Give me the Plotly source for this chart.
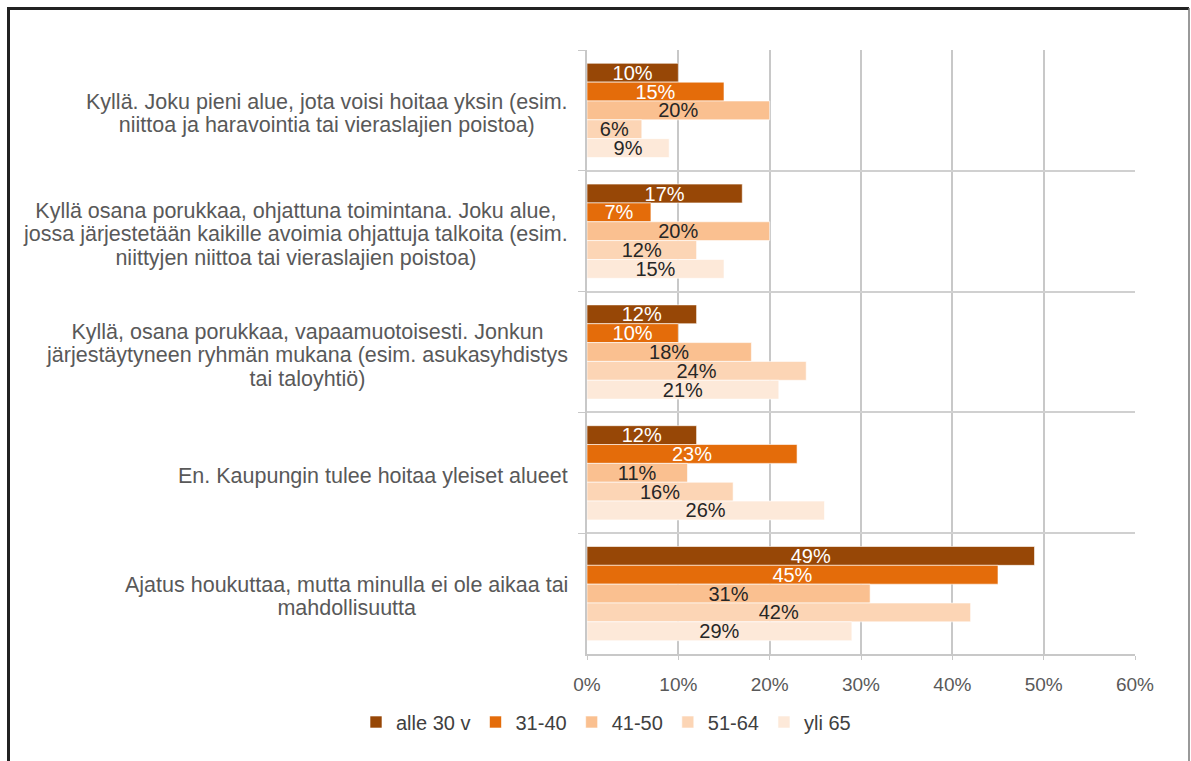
import plotly.graph_objects as go

categories = [
    "Kyllä. Joku pieni alue, jota voisi hoitaa yksin (esim.<br>niittoa ja haravointia tai vieraslajien poistoa)",
    "Kyllä osana porukkaa, ohjattuna toimintana. Joku alue,<br>jossa järjestetään kaikille avoimia ohjattuja talkoita (esim.<br>niittyjen niittoa tai vieraslajien poistoa)",
    "Kyllä, osana porukkaa, vapaamuotoisesti. Jonkun<br>järjestäytyneen ryhmän mukana (esim. asukasyhdistys<br>tai taloyhtiö)",
    "En. Kaupungin tulee hoitaa yleiset alueet",
    "Ajatus houkuttaa, mutta minulla ei ole aikaa tai<br>mahdollisuutta",
]
series_names = ["alle 30 v", "31-40", "41-50", "51-64", "yli 65"]
alle30 = [0.10, 0.17, 0.12, 0.12, 0.49]
v31_40 = [0.15, 0.07, 0.10, 0.23, 0.45]
v41_50 = [0.20, 0.20, 0.18, 0.11, 0.31]
v51_64 = [0.06, 0.12, 0.24, 0.16, 0.42]
yli65 = [0.09, 0.15, 0.21, 0.26, 0.29]
series_values = [alle30, v31_40, v41_50, v51_64, yli65]
x_ticks = [0, 0.1, 0.2, 0.3, 0.4, 0.5, 0.6]
x_ticklabels = ["0%", "10%", "20%", "30%", "40%", "50%", "60%"]

colors = ["#974706", "#E46C0A", "#FAC090", "#FCD5B5", "#FDE9D9"]
text_colors = ["white", "white", "#262626", "#262626", "#262626"]
FONT = "Liberation Sans, Arial"

W, H = 1191, 761
L, R, T, B = 587, 56, 50, 107
pw, ph = W - L - R, H - T - B

def px(x):
    return (x - L) / pw

def py(y):
    return (H - B - y) / ph

fig = go.Figure()
for name, vals, c, tc in zip(series_names, series_values, colors, text_colors):
    fig.add_trace(go.Bar(
        y=categories, x=vals, name=name, orientation="h",
        marker=dict(color=c, line=dict(width=0.6, color="white")),
        text=[f"{round(v*100)}%" for v in vals],
        textposition="inside", insidetextanchor="middle",
        constraintext="none", cliponaxis=False,
        textfont=dict(color=tc, size=20, family=FONT),
    ))

for cat in categories:
    styled = "<br>".join(f'<span style="font-size:21.5px">{ln}</span>' for ln in cat.split("<br>"))
    fig.add_annotation(
        x=px(570), xref="paper", y=cat, yref="y", yshift=-3,
        text=styled, showarrow=False, xanchor="right", align="center",
        font=dict(size=18, color="#595959", family=FONT),
    )

# frame
fig.add_shape(type="line", xref="paper", yref="paper", x0=px(8.5), x1=px(8.5), y0=py(7), y1=py(765),
              line=dict(color="#222222", width=3))
fig.add_shape(type="line", xref="paper", yref="paper", x0=px(7), x1=px(1189), y0=py(8.5), y1=py(8.5),
              line=dict(color="#222222", width=3))
fig.add_shape(type="line", xref="paper", yref="paper", x0=px(1189), x1=px(1189), y0=py(8), y1=py(765),
              line=dict(color="#777777", width=1.5))

fig.update_layout(
    width=W, height=H,
    margin=dict(l=L, r=R, t=T, b=B),
    paper_bgcolor="white", plot_bgcolor="white",
    barmode="group", bargap=0.22, bargroupgap=0,
    font=dict(family=FONT, color="#595959"),
    xaxis=dict(range=[0, 0.6], tickvals=x_ticks, ticktext=x_ticklabels,
               showgrid=True, gridcolor="#C8C8C8", gridwidth=1.5,
               showline=True, linecolor="#C8C8C8", linewidth=1.5,
               ticks="outside", ticklen=4, tickcolor="#C8C8C8",
               ticklabelstandoff=8,
               tickfont=dict(size=19, color="#595959"), zeroline=False),
    yaxis=dict(autorange="reversed", showticklabels=False, tickson="boundaries",
               showgrid=True, gridcolor="#D0D0D0", gridwidth=1.5,
               ticks="outside", ticklen=7, tickcolor="#C8C8C8",
               showline=True, linecolor="#C8C8C8", linewidth=1.5),
    legend=dict(orientation="h", x=px(606), xanchor="center", y=py(722), yanchor="middle",
                font=dict(size=20, color="#404040"), traceorder="normal",
                itemwidth=30),
)

fig.write_html("out.html", config={"displayModeBar": False},
               post_script="document.body.style.margin='0';")
